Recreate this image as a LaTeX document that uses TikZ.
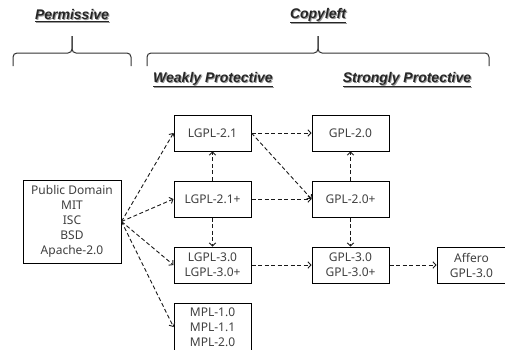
\documentclass[tikz,border=0pt]{standalone}
\usepackage{fontspec}
\setmainfont{Noto Sans}
\newfontfamily\headfont{Liberation Sans}
\usetikzlibrary{arrows.meta, positioning}

\newcommand\shadowed[1]{\makebox[0pt][l]{\kern1pt\raisebox{-1pt}{\textcolor{black!40}{\underline{#1}}}}\underline{#1}}

\begin{document}
\begin{tikzpicture}[x=1pt, y=-1pt,
    lic/.style={rectangle, draw=black, line width=1pt, fill=white, minimum width=77pt, minimum height=36pt, inner sep=2pt, font=\fontsize{12}{15}\selectfont, text=black!75, align=center},
    group/.style={font=\headfont\bfseries\itshape\fontsize{14}{16}\selectfont, text=black!85, inner sep=1pt},
    link/.style={-{Straight Barb[length=3pt, width=6.5pt]}, dash pattern=on 4pt off 2.5pt, line width=0.9pt, black!90},
    brace/.style={draw=black!80, line width=1pt, rounded corners=4pt},
]

\clip (0,0) rectangle (505,349);
\fill[white] (0,0) rectangle (505,349);

% === HEADINGS ===
\node[group] (permissive) at (72,16) {\shadowed{Permissive}};
\node[group] (copyleft) at (318,16) {\shadowed{Copyleft}};
\node[group] (weakly) at (213,80) {\shadowed{Weakly Protective}};
\node[group] (strongly) at (407,80) {\shadowed{Strongly Protective}};

% === BRACES ===
\draw[brace] (13,66) -- (13,53) -- (72,53) -- (72,36);
\draw[brace] (72,36) -- (72,53) -- (131,53) -- (131,66);
\draw[brace] (147,66) -- (147,53) -- (318,53) -- (318,36);
\draw[brace] (318,36) -- (318,53) -- (489,53) -- (489,66);

% === PERMISSIVE ===
\node[lic, minimum width=98pt, minimum height=83pt] (pd) at (72,221.5) {Public Domain\\MIT\\ISC\\BSD\\Apache-2.0};

% === WEAKLY PROTECTIVE ===
\node[lic] (lgpl21) at (212.5,133) {LGPL-2.1};
\node[lic, below=29pt of lgpl21] (lgpl21p) {LGPL-2.1+};
\node[lic, below=29pt of lgpl21p] (lgpl30) {LGPL-3.0\\LGPL-3.0+};
\node[lic, minimum height=48pt] (mpl) at (212.5,327) {MPL-1.0\\MPL-1.1\\MPL-2.0};

% === STRONGLY PROTECTIVE ===
\node[lic, right=60pt of lgpl21] (gpl20) {GPL-2.0};
\node[lic, right=60pt of lgpl21p] (gpl20p) {GPL-2.0+};
\node[lic, right=60pt of lgpl30] (gpl30) {GPL-3.0\\GPL-3.0+};
\node[lic, minimum width=69pt, right=47pt of gpl30] (agpl) {Affero\\GPL-3.0};

% === EDGES ===
\foreach \t in {lgpl21,lgpl21p,lgpl30,mpl} {
    \draw[link] (pd.east) -- (\t.west);
}
\draw[link] (lgpl21p) -- (lgpl21);
\draw[link] (lgpl21p) -- (lgpl30);
\draw[link] (lgpl21.east) -- (gpl20.west);
\draw[link] (lgpl21.east) -- (gpl20p.west);
\draw[link] (lgpl21p) -- (gpl20p);
\draw[link] (lgpl30) -- (gpl30);
\draw[link] (gpl20p) -- (gpl20);
\draw[link] (gpl20p) -- (gpl30);
\draw[link] (gpl30) -- (agpl);

\end{tikzpicture}
\end{document}
